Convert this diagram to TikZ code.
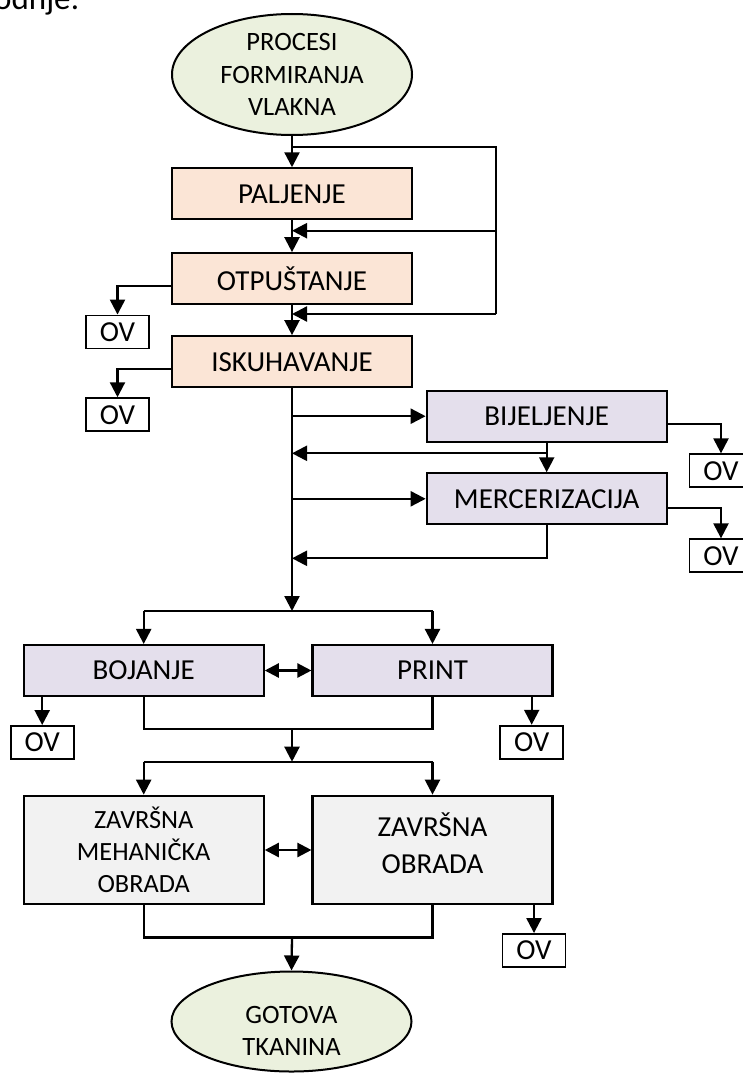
\documentclass[tikz,border=0pt]{standalone}
\usepackage{fontspec}
\setmainfont{Carlito}
\usetikzlibrary{shapes.geometric,arrows.meta}
\definecolor{peach}{RGB}{251,229,214}
\definecolor{lav}{RGB}{228,223,236}
\definecolor{lgrey}{RGB}{242,242,242}
\definecolor{lgreen}{RGB}{235,241,222}
\begin{document}
\begin{tikzpicture}[x=1pt,y=-1pt,
  proc/.style={draw,line width=2.1pt,minimum width=240pt,minimum height=51pt,inner sep=0pt,font=\fontsize{29}{36}\selectfont},
  ov/.style={draw,line width=1.9pt,minimum width=63pt,minimum height=33pt,inner sep=0pt,font=\fontsize{29}{33}\selectfont},
  term/.style={ellipse,draw,fill=lgreen,line width=2pt,inner sep=0pt,align=center,minimum width=240pt,font=\fontsize{26.5}{32.5}\selectfont},
  conn/.style={line width=2.3pt},
  arr/.style={conn,-{Triangle[length=15pt,width=15pt]}},
  darr/.style={conn,{Triangle[length=14pt,width=14pt]}-{Triangle[length=14pt,width=14pt]}}
]
\useasboundingbox (0,0) rectangle (742,1073);

\node[anchor=base east,font=\fontsize{33}{40}\selectfont] (frag) at (83,10) {odnje:};

% nodes
\node[term,minimum height=121pt] (e1) at (292,74.5) {PROCESI\\FORMIRANJA\\VLAKNA};
\node[proc,fill=peach] (pal) at (292,193.8) {PALJENJE};
\node[proc,fill=peach] (otp) at (292,278.7) {OTPUŠTANJE};
\node[proc,fill=peach] (isk) at (292,361.7) {ISKUHAVANJE};
\node[ov] (ov1) at (117.5,332) {OV};
\node[ov] (ov2) at (117.5,414.7) {OV};
\node[proc,fill=lav] (bij) at (546.7,416.2) {BIJELJENJE};
\node[proc,fill=lav] (mer) at (546.7,498.8) {MERCERIZACIJA};
\node[ov] (ov3) at (721,470.8) {OV};
\node[ov] (ov4) at (721,555.8) {OV};
\node[proc,fill=lav] (boj) at (143.7,670.5) {BOJANJE};
\node[proc,fill=lav] (pri) at (432.5,670.5) {PRINT};
\node[ov] (ov5) at (42.2,742.5) {OV};
\node[ov] (ov6) at (531.7,742.2) {OV};
\node[proc,fill=lgrey,minimum height=108.6pt,align=center,font=\fontsize{26.3}{32.3}\selectfont] (zm) at (143.7,850) {ZAVRŠNA\\MEHANIČKA\\OBRADA};
\node[proc,fill=lgrey,minimum height=108.6pt] (zo) at (432.5,850) {};
\node[align=center,inner sep=0pt,font=\fontsize{29}{36.7}\selectfont] (zot) at (432.5,843.4) {ZAVRŠNA\\OBRADA};
\node[ov] (ov7) at (534,950.5) {OV};
\node[term,minimum height=100pt] (e2) at (291.5,1021.5) {};
\node[align=center,inner sep=0pt,font=\fontsize{26.5}{31.7}\selectfont] (e2t) at (291.5,1030.8) {GOTOVA\\TKANINA};

% junction coordinates
\coordinate (jt) at (292,147);
\coordinate (rt) at (496,147);
\coordinate (rm) at (496,230.7);
\coordinate (rb) at (496,314);
\coordinate (c231) at (292,230.7);
\coordinate (c314) at (292,314);
\coordinate (b453) at (546.7,453.3);
\coordinate (m558) at (292,558.3);
\coordinate (c611) at (292,611);
\coordinate (jl) at (143.7,611);
\coordinate (jr) at (432.5,611);
\coordinate (m729) at (292,729.3);
\coordinate (j762) at (292,761.7);
\coordinate (m937) at (292,937.5);

% upper chain
\draw[arr] (e1.south) -- (pal.north);
\draw[conn] (jt) -- (rt) -- (rb);
\draw[arr] (rm) -- (c231);
\draw[arr] (rb) -- (c314);
\draw[arr] (pal.south) -- (otp.north);
\draw[arr] (otp.south) -- (isk.north);
\draw[arr] ([yshift=-7pt]otp.west) -| (ov1.north);
\draw[arr] ([yshift=-7pt]isk.west) -| (ov2.north);

% central spine
\draw[arr] (isk.south) -- (c611);
\draw[arr] (isk.south |- bij.west) -- (bij.west);
\draw[arr] (bij.south) -- (mer.north);
\draw[arr] (b453) -- (isk.south |- b453);
\draw[arr] (isk.south |- mer.west) -- (mer.west);
\draw[arr] (mer.south) |- (m558);
\draw[arr] ([yshift=-7.8pt]bij.east) -| (ov3.north);
\draw[arr] ([yshift=-9.5pt]mer.east) -| (ov4.north);

% dyeing / print
\draw[conn] (jl) -- (jr);
\draw[arr] (jl) -- (boj.north);
\draw[arr] (jr) -- (pri.north);
\draw[darr] (boj.east) -- (pri.west);
\draw[arr] (ov5.north |- boj.south) -- (ov5.north);
\draw[arr] (ov6.north |- pri.south) -- (ov6.north);
\draw[conn] (boj.south) |- (m729) -| (pri.south);
\draw[arr] (m729) -- (j762);

% finishing
\draw[conn] (j762 -| zm.north) -- (j762 -| zo.north);
\draw[arr] (j762 -| zm.north) -- (zm.north);
\draw[arr] (j762 -| zo.north) -- (zo.north);
\draw[darr] (zm.east) -- (zo.west);
\draw[arr] (ov7.north |- zo.south) -- (ov7.north);
\draw[conn] (zm.south) |- (m937) -| (zo.south);
\draw[arr] (m937) -- (e2.north);
\end{tikzpicture}
\end{document}
